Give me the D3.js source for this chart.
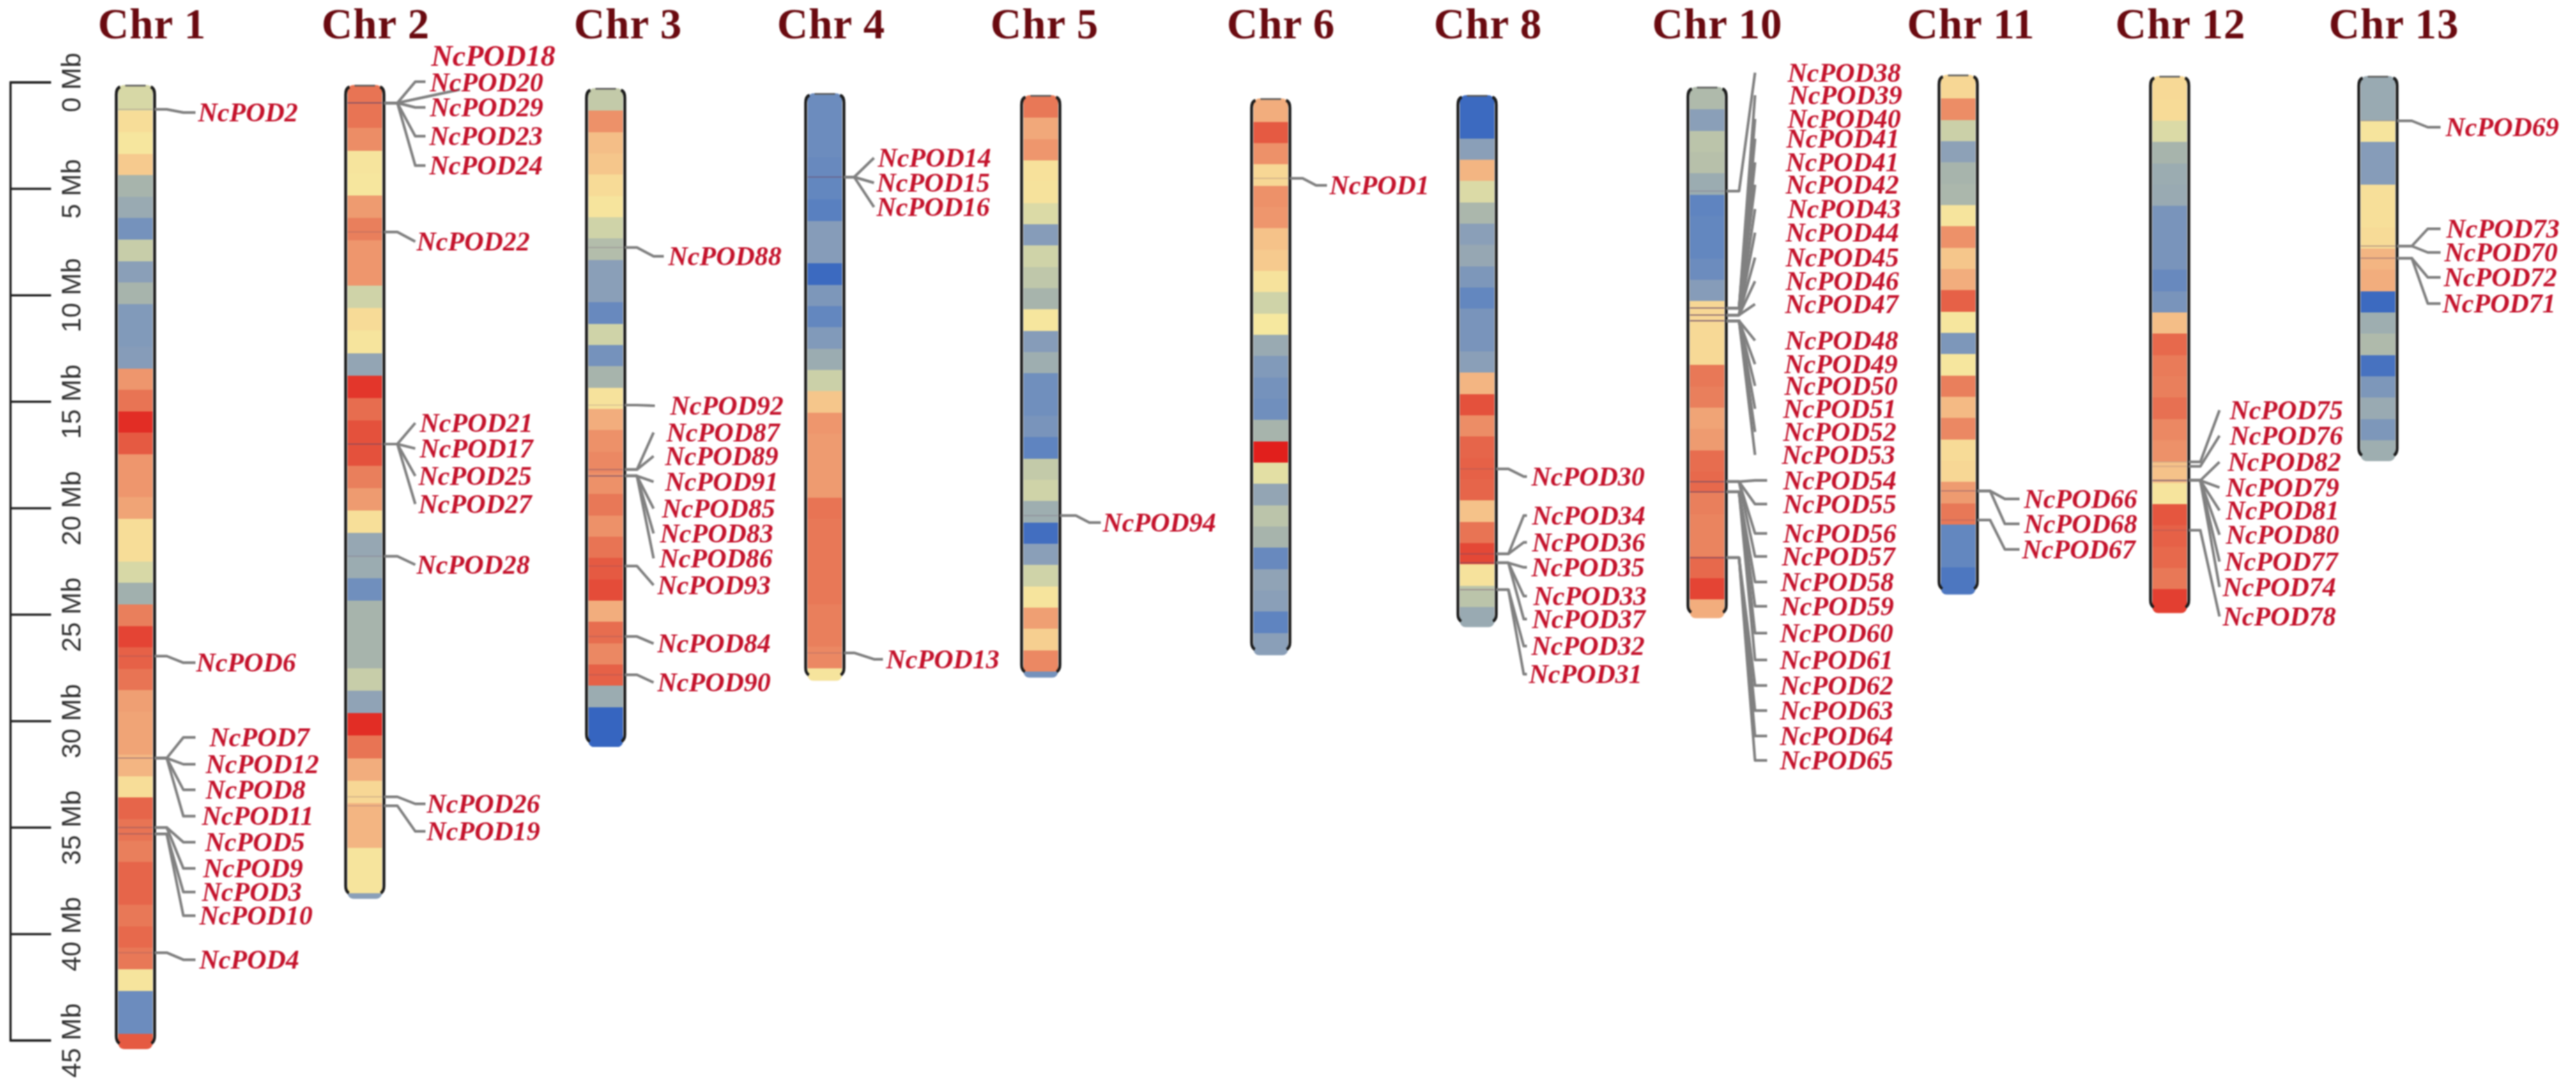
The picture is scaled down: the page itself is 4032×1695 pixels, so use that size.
<!DOCTYPE html>
<html>
<head>
<meta charset="utf-8">
<script src="https://cdn.jsdelivr.net/npm/d3@7"></script>
<style>
  html, body { margin: 0; padding: 0; background: #fff; }
  svg { display: block; filter: blur(1px); }
</style>
</head>
<body>
<svg id="canvas"></svg>
<script>
// ************************************************************************************** //
// Data

var chrNames = ['Chr 1', 'Chr 2', 'Chr 3', 'Chr 4', 'Chr 5', 'Chr 6', 'Chr 8', 'Chr 10', 'Chr 11', 'Chr 12', 'Chr 13'];
var rulerTicks = [0, 5, 10, 15, 20, 25, 30, 35, 40, 45];

// start, end, first band edge and band size of each chromosome, in ruler Mb
var chrStart = [0.135, 0.135, 0.285, 0.525, 0.615, 0.765, 0.615, 0.225, -0.345, -0.285, -0.285];
var chrEnd = [45.42, 38.36, 31.24, 28.12, 27.97, 26.92, 25.6, 25.18, 24.07, 24.94, 17.8];
var chrFirstEdge = [1.35, 1.1, 1.35, 1.52, 1.68, 1.87, 1.65, 1.29, 0.78, 0.82, 0.82];
var chrBandSize = [1.008, 1.057, 1, 1, 1, 1, 1, 1, 1, 1, 1];

// density level of each band, 0 (blue) to 10 (red)
var chr1Bands = [4.2,5.7,5.2,6.3,3,2.5,1.5,3.8,2,3,1.8,1.8,1.9,7.5,8.3,10,9,7.5,7.5,7.2,5.7,5.7,4.2,2.8,8,9.5,8.8,8.3,7.3,7.2,7.2,6.8,5.7,8.7,8.3,8,8.7,8.7,8.2,8.6,8.2,5.3,1.3,1.3,9];
var chr2Bands = [8.3,8.3,7.7,5.3,5.2,7.4,8,7.5,7.5,4,5.8,5.3,2.3,9.8,8.5,9.2,9.2,8,7.4,5.6,2.4,2.6,1.4,3,3,3,3.8,2.2,10,8.3,7,6,6.8,6.8,5.3,5.3,2,2];
var chr3Bands = [3.7,7.6,6.6,6.4,5.8,5.3,4,3.3,2,2,1.2,4,1.5,3,5.4,7,7.6,7.8,7.6,8.2,7.6,8.3,9,9.3,7,8.5,7.8,8.8,2.6,0.3,0.3];
var chr4Bands = [1.3,1.3,1.3,1.2,1.1,0.9,1.9,1.9,0.4,1.7,1.1,1.8,2.6,3.9,6.4,7.5,7.4,7.4,7.4,8.3,8.2,8.2,8.2,8.2,8,8,7.8,5.3];
var chr5Bands = [8.2,7.1,7.5,5.5,5.4,4.3,1.9,4,3.6,3,5.2,1.9,2.7,1.4,1.4,1.6,1,3.7,4,2.7,0.5,2,4,5.3,7.3,6.2,7.8,1.5];
var chr6Bands = [7,9,7.6,6,7.6,7.5,6.5,6.3,5.4,4,5.1,2.5,1.8,1.5,1.4,3,10.3,4.5,2.3,3.5,3,1.2,2.2,2,1,2];
var chr8Bands = [0.4,0.4,2,6.8,4.3,3.1,2,2.4,1.7,1.1,1.6,1.6,2,6.8,9.2,7.7,8.7,8.8,8.7,6.5,8.3,9.4,5.4,3.5,2.5];
var chr10Bands = [3.2,2,3.5,3.4,2.6,1,1.1,1.1,1.3,1.9,6,5.9,5.9,8.2,8,7.2,7.4,8.5,8.6,8,7.9,7.9,8.6,9.5,7];
var chr11Bands = [6,7.7,3.9,2.1,3,3.1,5.3,7.6,6.4,7,8.8,5.2,1.7,5.2,8,6.7,7.8,5.8,6,7.4,8.2,1.1,1.1,0.7];
var chr12Bands = [5.9,5.8,4.3,3,2.6,2.5,1.6,1.6,1.6,1.2,1.6,6.6,8.6,8.1,8,8.4,7.8,7.6,6.5,5.3,9.1,8.8,8.6,8.2,9.6];
var chr13Bands = [2.5,2.5,5.3,1.9,1.9,5.6,5.6,5.8,6.8,7,0.4,2.7,3.2,0.6,1.7,2.5,1.7,2.7];

// gene names, gene position and label position, in ruler Mb
var chr1Genes = ['NcPOD2','NcPOD6','NcPOD7','NcPOD12','NcPOD8','NcPOD11','NcPOD5','NcPOD9','NcPOD3','NcPOD10','NcPOD4'];
var chr1Pos = [1.28,26.96,31.75,31.75,31.75,31.75,35.01,35.01,35.31,35.31,40.89];
var chr1Lab = [1.43,27.27,30.78,32.04,33.24,34.48,35.7,36.93,38.04,39.15,41.22];

var chr2Genes = ['NcPOD18','NcPOD20','NcPOD29','NcPOD23','NcPOD24','NcPOD22','NcPOD21','NcPOD17','NcPOD25','NcPOD27','NcPOD28','NcPOD26','NcPOD19'];
var chr2Pos = [0.98,0.98,0.98,0.98,0.98,7.04,17,17,17,17,22.27,33.57,33.99];
var chr2Lab = [-1.19,0.02,1.19,2.54,3.92,7.49,16.01,17.21,18.5,19.82,22.67,33.9,35.19];

var chr3Genes = ['NcPOD88','NcPOD92','NcPOD87','NcPOD89','NcPOD91','NcPOD85','NcPOD83','NcPOD86','NcPOD93','NcPOD84','NcPOD90'];
var chr3Pos = [7.77,15.17,18.2,18.2,18.5,18.5,18.5,18.5,22.73,26.04,27.84];
var chr3Lab = [8.18,15.2,16.46,17.57,18.77,20.03,21.2,22.37,23.63,26.37,28.2];

var chr4Genes = ['NcPOD14','NcPOD15','NcPOD16','NcPOD13'];
var chr4Pos = [4.46,4.46,4.46,26.81];
var chr4Lab = [3.56,4.73,5.87,27.11];

var chr5Genes = ['NcPOD94'];
var chr5Pos = [20.36];
var chr5Lab = [20.69];

var chr6Genes = ['NcPOD1'];
var chr6Pos = [4.52];
var chr6Lab = [4.85];

var chr8Genes = ['NcPOD30','NcPOD34','NcPOD36','NcPOD35','NcPOD33','NcPOD37','NcPOD32','NcPOD31'];
var chr8Pos = [18.17,22.16,22.16,22.58,22.58,22.58,23.84,23.84];
var chr8Lab = [18.53,20.36,21.62,22.79,24.14,25.22,26.49,27.81];

var chr10Genes = ['NcPOD38','NcPOD39','NcPOD40','NcPOD41','NcPOD41','NcPOD42','NcPOD43','NcPOD44','NcPOD45','NcPOD46','NcPOD47','NcPOD48','NcPOD49','NcPOD50','NcPOD51','NcPOD52','NcPOD53','NcPOD54','NcPOD55','NcPOD56','NcPOD57','NcPOD58','NcPOD59','NcPOD60','NcPOD61','NcPOD62','NcPOD63','NcPOD64','NcPOD65'];
var chr10Pos = [5.12,10.61,10.61,10.61,10.61,10.61,10.94,10.94,10.94,10.94,10.94,11.21,11.21,11.21,11.21,11.21,11.21,18.77,18.77,18.77,18.77,19.25,19.25,19.25,19.25,22.34,22.34,22.34,22.34];
var chr10Lab = [-0.44,0.62,1.73,2.66,3.77,4.82,5.96,7.07,8.24,9.35,10.43,12.14,13.25,14.27,15.35,16.43,17.51,18.71,19.82,21.2,22.28,23.48,24.62,25.88,27.14,28.34,29.52,30.71,31.86];

var chr11Genes = ['NcPOD66','NcPOD68','NcPOD67'];
var chr11Pos = [19.2,19.2,20.57];
var chr11Lab = [19.58,20.75,21.95];

var chr12Genes = ['NcPOD75','NcPOD76','NcPOD82','NcPOD79','NcPOD81','NcPOD80','NcPOD77','NcPOD74','NcPOD78'];
var chr12Pos = [17.84,18.05,18.71,18.71,18.71,18.71,18.71,18.71,21.05];
var chr12Lab = [15.41,16.61,17.84,19.04,20.12,21.26,22.52,23.72,25.1];

var chr13Genes = ['NcPOD69','NcPOD73','NcPOD70','NcPOD72','NcPOD71'];
var chr13Pos = [1.82,7.7,7.7,8.27,8.27];
var chr13Lab = [2.12,6.89,8,9.17,10.4];

// ************************************************************************************** //
// Layout

var canvas_width = 4032, canvas_height = 1695;
var chrHalf = 27;
var chrCenter = [212, 571, 948, 1291, 1629, 1989, 2312, 2672, 3065, 3396, 3722];
var titleX = [238, 588, 983, 1301, 1635, 2005, 2329, 2688, 3085, 3413, 3747];

// leader bends: first knee, second knee, tip
var kneeA = [261, 622, 997, 1337, 1684, 2039, 2361, 2722, 3115, 3444, 3775];
var kneeB = [287, [650,720,650,650,650,650,650,650,650,650,650,650,650], 1023, 1368, 1705, 2060, 2385, 2747, 3138, 3474, 3800];
var tipX = [306, [666,720,666,666,666,650,650,650,650,650,650,666,666], [1039,1025,1023,1023,1023,1023,1023,1023,1023,1023,1023], [1368,1368,1368,1382], 1723, 2077, 2390,
  chr10Genes.map(function(d, i){ return i < 17 ? 2747 : 2766; }), 3161, 3474, 3820];

var labelX = [
  [310,307,328,322,322,316,321,318,316,312,312],
  [675,673,673,672,672,652,657,657,655,655,652,668,668],
  [1046,1049,1043,1041,1041,1036,1033,1032,1029,1029,1029],
  [1374,1372,1372,1387],
  [1726],
  [2081],
  [2397,2398,2398,2397,2400,2398,2397,2393],
  [2798,2800,2798,2796,2795,2795,2798,2795,2795,2795,2794,2794,2793,2793,2791,2791,2789,2791,2791,2791,2789,2787,2787,2786,2786,2786,2786,2786,2786],
  [3168,3168,3165],
  [3490,3490,3487,3484,3484,3484,3482,3479,3479],
  [3828,3829,3826,3825,3823]
];

var chrBands = [chr1Bands, chr2Bands, chr3Bands, chr4Bands, chr5Bands, chr6Bands, chr8Bands, chr10Bands, chr11Bands, chr12Bands, chr13Bands];
var chrGenes = [chr1Genes, chr2Genes, chr3Genes, chr4Genes, chr5Genes, chr6Genes, chr8Genes, chr10Genes, chr11Genes, chr12Genes, chr13Genes];
var chrPos = [chr1Pos, chr2Pos, chr3Pos, chr4Pos, chr5Pos, chr6Pos, chr8Pos, chr10Pos, chr11Pos, chr12Pos, chr13Pos];
var chrLab = [chr1Lab, chr2Lab, chr3Lab, chr4Lab, chr5Lab, chr6Lab, chr8Lab, chr10Lab, chr11Lab, chr12Lab, chr13Lab];

// the tips of chr 2 NcPOD18 and NcPOD20 stop short of their labels
var leaderOverride = { 'NcPOD18': -0.02, 'NcPOD20': 0.35 };

// ************************************************************************************** //
// Scales

var yScale = d3.scaleLinear().domain([0, 45]).range([128.5, 1628]);
var colorScale = d3.scaleLinear()
  .domain([0, 1, 2, 3, 4, 5, 6, 7, 8, 9, 10])
  .range(['#2458c0', '#5f84c0', '#8a9fb8', '#a7b4ac', '#cfd3a8', '#f6eaa0', '#f7d795', '#f2ad7d', '#e97f5c', '#e55a42', '#e22d25']);

function pick(v, i){ return Array.isArray(v) ? v[i] : v; }

// ************************************************************************************** //
// Create

var svg = d3.select('#canvas').attr('width', canvas_width).attr('height', canvas_height);
var defs = svg.append('defs');

// ruler on the left
var ruler = svg.append('g').attr('transform', 'translate(16,0)');
ruler.call(d3.axisRight(yScale).tickValues(rulerTicks).tickSize(64).tickFormat(function(d){ return d + ' Mb'; }));
ruler.selectAll('path, line').attr('stroke', '#222').attr('stroke-width', 3.5);
ruler.selectAll('text')
  .attr('x', null).attr('dy', null)
  .attr('transform', 'translate(110,0) rotate(-90)')
  .attr('text-anchor', 'middle')
  .attr('fill', '#333')
  .style('font-family', '"Liberation Sans", sans-serif')
  .style('font-size', '42px');

// titles
svg.selectAll('.chr-title').data(chrNames).enter().append('text')
  .attr('class', 'chr-title')
  .attr('x', function(d, i){ return titleX[i]; })
  .attr('y', 60)
  .attr('text-anchor', 'middle')
  .attr('fill', '#6a0a10')
  .style('font-family', '"Liberation Serif", serif')
  .style('font-weight', 'bold')
  .style('font-size', '67px')
  .style('letter-spacing', '1px')
  .text(function(d){ return d; });

chrNames.forEach(function(name, c){
  var cx = chrCenter[c], left = cx - chrHalf, right = cx + chrHalf;
  var top = yScale(chrStart[c]), bottom = yScale(chrEnd[c]);
  var size = chrBandSize[c];
  var g = svg.append('g').attr('class', 'chromosome');

  defs.append('clipPath').attr('id', 'clip' + c).append('rect')
    .attr('x', left).attr('y', top).attr('width', 2 * chrHalf).attr('height', bottom - top).attr('rx', 9);

  function bandTop(i){ return i === 0 ? top : yScale(chrFirstEdge[c] + (i - 1) * size); }
  function bandBottom(i){ return i === chrBands[c].length - 1 ? bottom : yScale(chrFirstEdge[c] + i * size); }

  // bands, the first and the last one are cut by the chromosome ends
  g.append('g').attr('clip-path', 'url(#clip' + c + ')')
    .selectAll('rect').data(chrBands[c]).enter().append('rect')
    .attr('x', left)
    .attr('width', 2 * chrHalf)
    .attr('y', function(d, i){ return bandTop(i); })
    .attr('height', function(d, i){ return Math.max(0, bandBottom(i) - bandTop(i)); })
    .attr('shape-rendering', 'crispEdges')
    .attr('fill', function(d){ return colorScale(d); });

  // gene lines across the chromosome
  g.selectAll('.gene-line').data(chrPos[c]).enter().append('line')
    .attr('class', 'gene-line')
    .attr('x1', left).attr('x2', right)
    .attr('y1', function(d){ return yScale(d); })
    .attr('y2', function(d){ return yScale(d); })
    .attr('stroke', '#6b4a6a').attr('stroke-width', 1.2).attr('opacity', 0.35);

  // side outlines, open at both ends
  var stopY = bottom - 12;
  [[left - 3, 1], [right + 3, -1]].forEach(function(s){
    var p = d3.path();
    p.moveTo(s[0] + s[1] * 6, top + 3);
    p.quadraticCurveTo(s[0], top + 5, s[0], top + 15);
    p.lineTo(s[0], stopY - 8);
    p.quadraticCurveTo(s[0], stopY, s[0] + s[1] * 5, stopY + 3);
    g.append('path').attr('d', p.toString()).attr('fill', 'none').attr('stroke', '#1c1c1c').attr('stroke-width', 4.5);
  });
  g.append('line')
    .attr('x1', cx - 16).attr('x2', cx + 16)
    .attr('y1', top + 1).attr('y2', top + 1)
    .attr('stroke', '#555').attr('stroke-width', 2.5);

  // leaders
  var lineGen = d3.line();
  g.selectAll('.leader').data(chrGenes[c]).enter().append('path')
    .attr('class', 'leader')
    .attr('fill', 'none')
    .attr('stroke', '#808080')
    .attr('stroke-width', 4.2)
    .attr('stroke-linejoin', 'round')
    .attr('d', function(d, i){
      var y0 = yScale(chrPos[c][i]);
      var lab = (c === 1 && leaderOverride[d] !== undefined) ? leaderOverride[d] : chrLab[c][i];
      var y1 = yScale(lab);
      return lineGen([[right + 3, y0], [kneeA[c], y0], [pick(kneeB[c], i), y1], [pick(tipX[c], i), y1]]);
    });

  // labels
  g.selectAll('.gene-label').data(chrGenes[c]).enter().append('text')
    .attr('class', 'gene-label')
    .attr('x', function(d, i){ return labelX[c][i]; })
    .attr('y', function(d, i){ return yScale(chrLab[c][i]) + 14; })
    .attr('fill', '#c4122b')
    .style('font-family', '"Liberation Serif", serif')
    .style('font-weight', 'bold')
    .style('font-style', 'italic')
    .style('font-size', function(d){ return d === 'NcPOD18' ? '46px' : '42px'; })
    .text(function(d){ return d; });
});
</script>
</body>
</html>
